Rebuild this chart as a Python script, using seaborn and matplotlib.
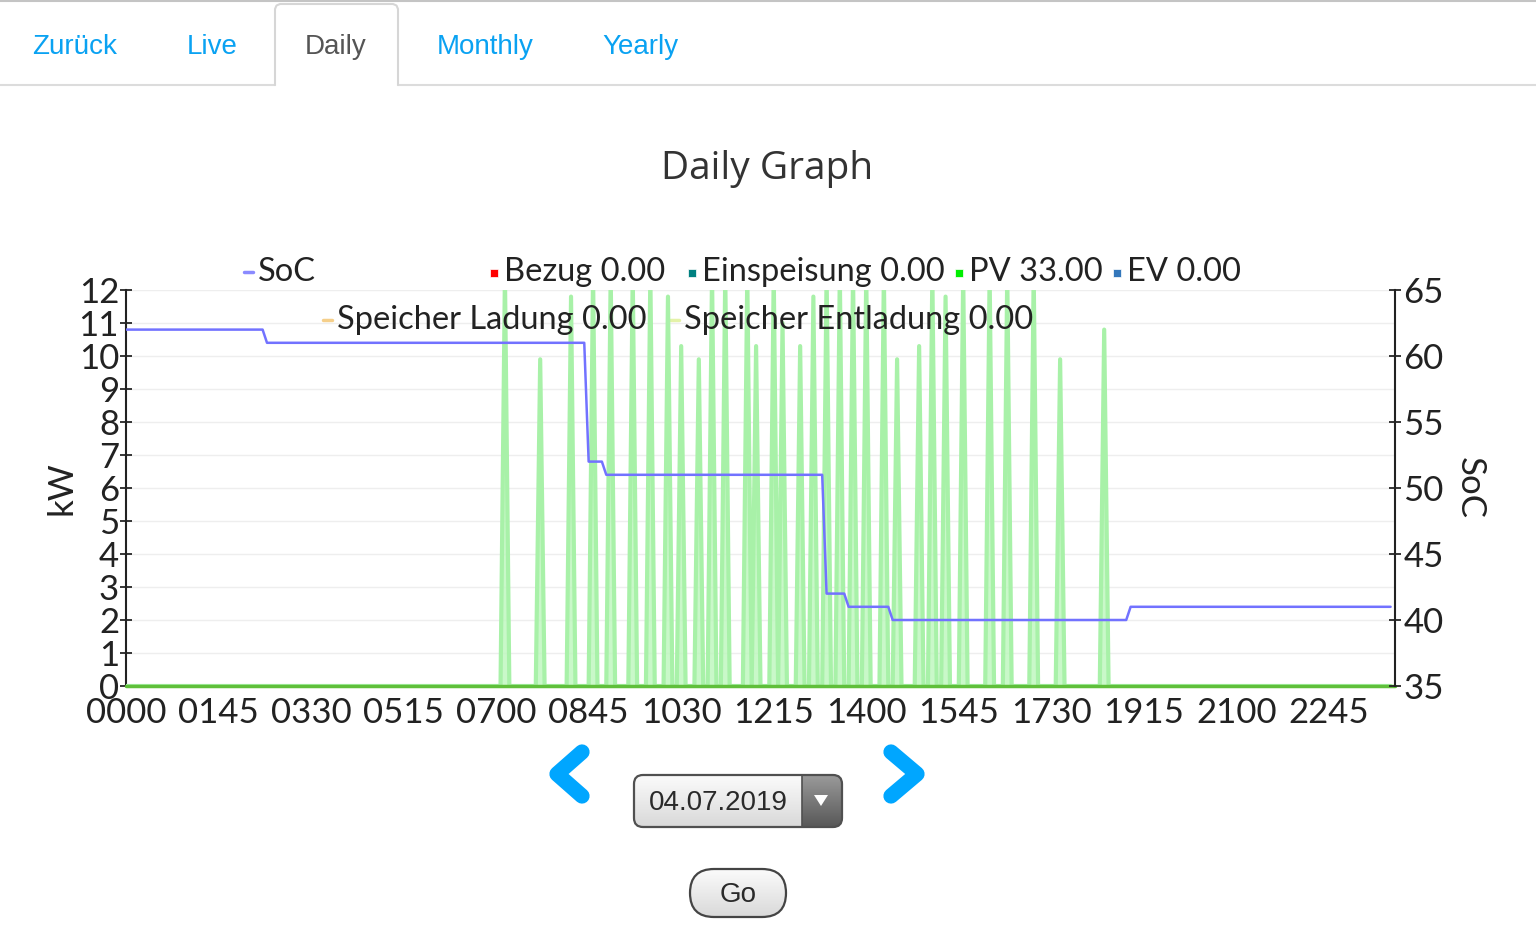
import numpy as np
import pandas as pd
import matplotlib
matplotlib.use('Agg')
import matplotlib.pyplot as plt
import seaborn as sns
from matplotlib.patches import FancyBboxPatch, Polygon
from matplotlib.colors import LinearSegmentedColormap

# ---- data (time in minutes since midnight) ----
soc_minutes = [0, 155, 160, 520, 525, 540, 545, 790, 795, 815, 820, 865, 870, 1135, 1140, 1435]
soc_percent = [62, 62, 61, 61, 52, 52, 51, 51, 42, 42, 41, 41, 40, 40, 41, 41]

# PV spikes: peak time and peak power (values >12 run off the top of the axis)
pv_peak_minutes = [430, 470, 505, 530, 550, 575, 595, 615, 630, 650, 665, 680, 705, 715,
                   735, 745, 765, 780, 795, 810, 825, 840, 860, 875, 900, 915, 930, 950,
                   980, 1000, 1030, 1060, 1110]
pv_peak_kw = [12.5, 9.9, 11.8, 12.5, 12.5, 12.5, 12.5, 11.8, 10.3, 9.9, 12.5, 12.5, 12.5, 10.3,
              12.5, 11.0, 10.3, 11.8, 12.5, 12.5, 12.5, 12.5, 12.5, 9.9, 10.3, 12.5, 11.8, 12.5,
              12.5, 12.5, 12.5, 9.9, 10.8]

x_tick_minutes = [0, 105, 210, 315, 420, 525, 630, 735, 840, 945, 1050, 1155, 1260, 1365]
x_tick_labels = ['0000', '0145', '0330', '0515', '0700', '0845', '1030', '1215',
                 '1400', '1545', '1730', '1915', '2100', '2245']
kw_ticks = [0, 1, 2, 3, 4, 5, 6, 7, 8, 9, 10, 11, 12]
soc_ticks = [35, 40, 45, 50, 55, 60, 65]

legend_names = ['Bezug', 'Einspeisung', 'PV', 'EV', 'Speicher Ladung', 'Speicher Entladung']
legend_totals = [0.00, 0.00, 33.00, 0.00, 0.00, 0.00]

tab_names = ['Zurück', 'Live', 'Daily', 'Monthly', 'Yearly']
selected_date = '04.07.2019'

# build the spike series: each sample is zero except the peak
pv_min, pv_kw = [0], [0]
for m, p in zip(pv_peak_minutes, pv_peak_kw):
    pv_min += [m - 5, m, m + 5]
    pv_kw += [0, p, 0]
pv_min.append(1435)
pv_kw.append(0)
pv_df = pd.DataFrame({'minute': pv_min, 'kW': pv_kw})
soc_df = pd.DataFrame({'minute': soc_minutes, 'SoC': soc_percent})

sns.set_style('white')
plt.rcParams['font.family'] = ['Lato', 'DejaVu Sans']
plt.rcParams['font.weight'] = 'normal'
txt = '#222222'

W, H = 1536, 950
fig = plt.figure(figsize=(W / 100, H / 100), dpi=100)

# full-figure layer in pixel coordinates for the page furniture
ui = fig.add_axes([0, 0, 1, 1], zorder=0)
ui.axis('off')

L, R, T, B = 126, 1395, 290, 686
ax = fig.add_axes([L / W, 1 - B / H, (R - L) / W, (B - T) / H], zorder=2)
ax.patch.set_alpha(0)

# PV spikes
ax.fill_between(pv_df['minute'], 0, pv_df['kW'], color='#c0f7c0', alpha=0.85, lw=0, zorder=2)
sns.lineplot(data=pv_df, x='minute', y='kW', ax=ax, color='#a8f1a8', lw=3,
             sort=False, estimator=None, zorder=3)
ax.axhline(0, color='#5fbf3a', lw=2.5, zorder=4, clip_on=False)

ax.set_xlim(0, 1440)
ax.set_ylim(0, 12)
ax.set_yticks(kw_ticks)
ax.set_xticks(x_tick_minutes, x_tick_labels)
ax.set_xticks(np.arange(0, 1440, 15), minor=True)
ax.yaxis.grid(True, color='#eeeeee', lw=1)
ax.set_axisbelow(True)
ax.set_xlabel('')
ax.set_ylabel('')
ax.tick_params(axis='y', direction='inout', length=8, width=1.3, labelsize=25,
               labelcolor=txt, pad=1)
ax.tick_params(axis='x', which='major', direction='inout', length=8, width=1.3,
               labelsize=25, labelcolor=txt, pad=4)
ax.tick_params(axis='x', which='minor', direction='out', length=3, width=1, color='#bbbbbb')
for s in ['top', 'right']:
    ax.spines[s].set_visible(False)
ax.spines['left'].set_color('#222222')
ax.spines['left'].set_linewidth(1.5)
ax.spines['bottom'].set_color('#aaaaaa')

# SoC on the right axis
ax2 = ax.twinx()
sns.lineplot(data=soc_df, x='minute', y='SoC', ax=ax2, color='#7272ff', lw=1.8, estimator=None, zorder=5)
ax2.set_ylim(35, 65)
ax2.set_yticks(soc_ticks)
ax2.set_ylabel('')
ax2.tick_params(axis='y', direction='inout', length=8, width=1.3, labelsize=25,
                labelcolor=txt, pad=2)
for s in ['top', 'left', 'bottom']:
    ax2.spines[s].set_visible(False)
ax2.spines['right'].set_color('#222222')
ax2.spines['right'].set_linewidth(1.5)

# axis titles
ui.text(62, 488, 'kW', rotation=90, ha='center', va='center', fontsize=25, color=txt)
ui.text(1470, 488, 'SoC', rotation=270, ha='center', va='center', fontsize=25, color=txt)

# legend (flot style, two centred rows)
leg_size = 23.5
leg_font = dict(fontsize=leg_size, color=txt, va='center', ha='left', zorder=6)
ui.plot([244, 253], [272, 272], color='#8a8aff', lw=2.5)
ui.text(258, 272, 'SoC', **leg_font)
square_colors = ['#ff0000', '#008080', '#00ee00', '#3377bb']
square_x = [490, 688, 955, 1113]
for name, tot, c, x in zip(legend_names[:4], legend_totals[:4], square_colors, square_x):
    ui.plot(x + 4, 273, marker='s', ms=6, color=c, mec='white', mew=0.5)
    ui.text(x + 14, 272, f'{name} {tot:.2f}', **leg_font)
dash_colors = ['#f5cf8a', '#e4f2a8']
dash_x = [323, 670]
for name, tot, c, x in zip(legend_names[4:], legend_totals[4:], dash_colors, dash_x):
    ui.plot([x, x + 9], [320, 320], color=c, lw=2.5)
    fig.text((x + 14) / W, 1 - 320 / H, f'{name} {tot:.2f}', fontsize=leg_size, color=txt,
             va='center', ha='left', zorder=10)

# title
ui.text(767, 169, 'Daily Graph', ha='center', va='center', fontsize=28, color='#333333',
        family='Open Sans', weight='normal')

# tabs
ui.plot([0, W], [1, 1], color='#c4c4c4', lw=1.5)
ui.plot([0, 275], [85, 85], color='#dcdcdc', lw=1.5)
ui.plot([398, W], [85, 85], color='#dcdcdc', lw=1.5)
ui.plot([275, 275, 276.5, 280, 393, 396.5, 398, 398], [85, 9, 5.5, 4, 4, 5.5, 9, 85],
        color='#d6d6d6', lw=1.5)
tab_x = [75, 212, 336, 485, 640]
for name, x in zip(tab_names, tab_x):
    ui.text(x, 47, name, ha='center', va='center', fontsize=20, weight='normal',
            family='Liberation Sans', color='#555555' if name == 'Daily' else '#0aa2f2')

# navigation chevrons
ui.plot([582, 557, 582], [752, 774, 796], color='#00a6ff', lw=11,
        solid_capstyle='round', solid_joinstyle='round')
ui.plot([891, 917, 891], [752, 774, 796], color='#00a6ff', lw=11,
        solid_capstyle='round', solid_joinstyle='round')

# date picker and Go button with soft gradients
grey = LinearSegmentedColormap.from_list('g', ['#fbfbfb', '#d9d9d9'])
dark = LinearSegmentedColormap.from_list('d', ['#9a9a9a', '#585858'])
grad = np.linspace(0, 1, 64).reshape(-1, 1)

box = FancyBboxPatch((634, 775), 208, 52, boxstyle='round,pad=0,rounding_size=9',
                     fc='none', ec='#505050', lw=1.6, zorder=4)
ui.add_patch(box)
im = ui.imshow(grad, extent=[634, 842, 827, 775], origin='upper', cmap=grey, aspect='auto', zorder=2)
im.set_clip_path(box)
im2 = ui.imshow(grad, extent=[802, 842, 827, 775], origin='upper', cmap=dark, aspect='auto', zorder=3)
im2.set_clip_path(box)
ui.plot([802, 802], [775, 827], color='#505050', lw=1.2, zorder=4)
ui.add_patch(Polygon([(814, 795), (828, 795), (821, 806)], closed=True, fc='white', ec='none', zorder=5))
ui.text(718, 803, selected_date, ha='center', va='center', fontsize=20, weight='normal',
        family='Liberation Sans', color='#2a2a2a', zorder=5)

go = FancyBboxPatch((690, 869), 96, 48, boxstyle='round,pad=0,rounding_size=24',
                    fc='none', ec='#444444', lw=1.6, zorder=4)
ui.add_patch(go)
im3 = ui.imshow(grad, extent=[690, 786, 917, 869], origin='upper', cmap=grey, aspect='auto', zorder=2)
im3.set_clip_path(go)
ui.text(738, 895, 'Go', ha='center', va='center', fontsize=20, weight='normal',
        family='Liberation Sans', color='#2a2a2a', zorder=5)

ui.set_xlim(0, W)
ui.set_ylim(H, 0)

fig.savefig('out.png', dpi=100)
